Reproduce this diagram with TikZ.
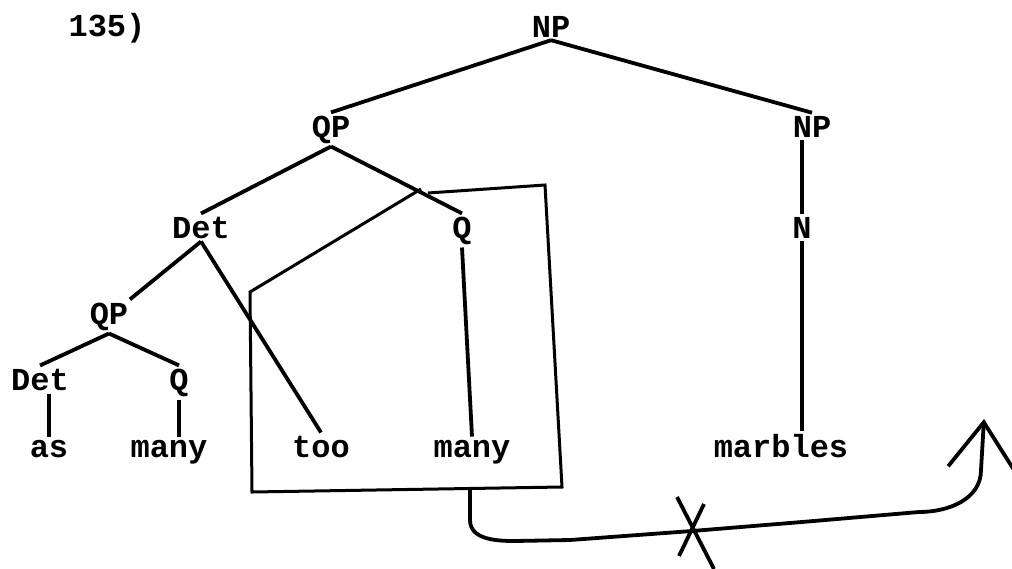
\documentclass[tikz,border=0pt]{standalone}
\usepackage{fontspec}
\setmonofont{Liberation Mono}
\usepackage{tikz}
\usetikzlibrary{arrows.meta}

\begin{document}
\begin{tikzpicture}[x=10pt, y=-10pt,
    lbl/.style={font=\fontsize{32}{38}\selectfont\ttfamily\bfseries, anchor=base, inner sep=3pt},
    branch/.style={line width=3.8pt},
    boxline/.style={line width=3pt}]
    \clip (0,0) rectangle (101.2,56.8);
    % labels
    \node[lbl] (num) at (10.7,3.6) {135)};
    \node[lbl] (np) at (55.1,3.7) {NP};
    \node[lbl] (qp) at (33.1,13.7) {QP};
    \node[lbl] (npr) at (81.2,13.7) {NP};
    \node[lbl] (det) at (20.1,23.8) {Det};
    \node[lbl] (q) at (46.2,23.8) {Q};
    \node[lbl] (n) at (80.2,23.8) {N};
    \node[lbl] (qplo) at (10.9,32.4) {QP};
    \node[lbl] (detlo) at (4.0,39.0) {Det};
    \node[lbl] (qlo) at (17.9,39.0) {Q};
    \node[lbl] (as) at (4.9,45.7) {as};
    \node[lbl] (manyl) at (16.9,45.7) {many};
    \node[lbl] (too) at (32.1,45.7) {too};
    \node[lbl] (manyr) at (47.2,45.7) {many};
    \node[lbl] (marbles) at (78.1,45.7) {marbles};

    % branches
    \draw[branch] (np.south) -- (qp.north);
    \draw[branch] (np.south) -- (npr.north);
    \draw[branch] (qp.south) -- (det.north);
    \draw[branch] (qp.south) -- (q.north);
    \draw[branch] (n.north |- npr.south) -- (n.north);
    \draw[branch] (det.south) -- (qplo);
    \draw[branch] (det.south) -- (too.north);
    \draw[branch] (q.south) -- (manyr.north);
    \draw[branch] (n.south) -- (n.south |- marbles.north);
    \draw[branch] (qplo.south) -- (detlo.north);
    \draw[branch] (qplo.south) -- (qlo.north);
    \draw[branch] (as.north |- detlo.south) -- (as.north);
    \draw[branch] (qlo.south) -- (qlo.south |- manyl.north);

    % box round the moved part
    \draw[boxline] (42.8,19.3) -- (54.5,18.5) -- (56.2,48.7) -- (25.2,49.2) -- (25.0,29.2) -- (42.1,18.9);

    % movement arrow
    \coordinate (tail) at (47.0,49.0);
    \coordinate (head) at (98.4,41.9);
    \draw[branch, -{Straight Barb[length=46pt,width=66pt]}] (tail) -- (47.0,52.0)
        to[out=-90,in=180] (51.5,54.1) -- (57.0,54.0) -- (69.2,53.1) -- (80.2,52.2)
        -- (91.9,51.2) to[out=0,in=-90] (98.1,47.0) -- (head);
    \draw[branch] (67.7,49.7) -- (71.4,56.9);
    \draw[branch] (70.4,50.4) -- (67.9,55.6);
\end{tikzpicture}
\end{document}
